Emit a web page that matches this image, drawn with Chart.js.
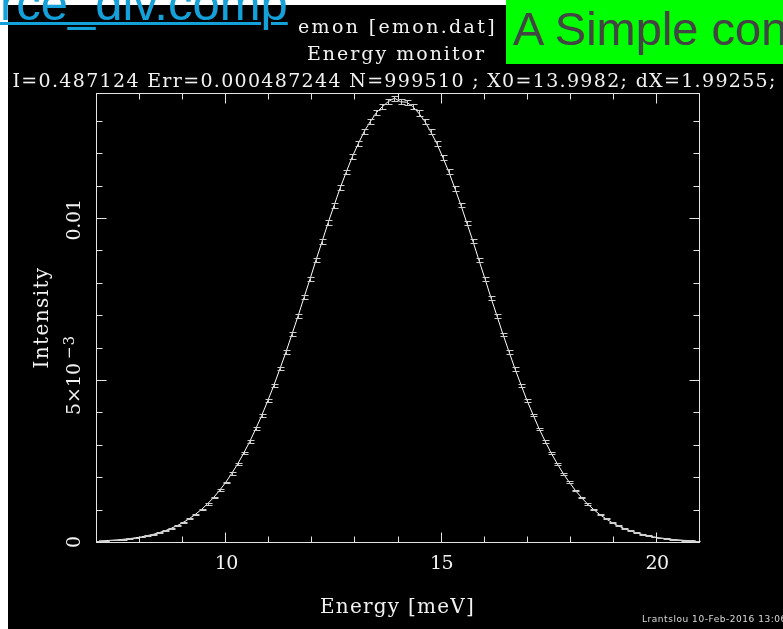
<!DOCTYPE html>
<html>
<head>
<meta charset="utf-8">
<script src="https://cdn.jsdelivr.net/npm/chart.js@4.4.1/dist/chart.umd.min.js"></script>
<style>
html, body { margin: 0; padding: 0; background: #fff; width: 783px; height: 629px; overflow: hidden; }
#plot { position: absolute; left: 8px; top: 5px; width: 775px; height: 624px; background: #000; overflow: hidden; }
#plot canvas { position: absolute; left: 0; top: 0; }
#link { position: absolute; left: 0px; top: -21px; font: 49px/49px "Liberation Sans", Arial, sans-serif; color: #14a0d9; text-decoration: underline; text-decoration-thickness: 3px; white-space: nowrap; }
#banner { position: absolute; left: 506px; top: 0; width: 277px; height: 64px; background: #00ff00; overflow: hidden; }
#banner span { position: absolute; left: 7px; top: 5px; font: 47px/47px "Liberation Sans", Arial, sans-serif; color: #444; white-space: nowrap; }
</style>
</head>
<body>
<div id="plot"><canvas id="stockChart" width="775" height="624"></canvas></div>
<a id="link" href="#">rce_div.comp</a>
<div id="banner"><span>A Simple con</span></div>
<script>
// Bin centres [meV]
const energy = [
  7.07, 7.21, 7.35, 7.49, 7.63, 7.77, 7.91, 8.05, 8.19, 8.33,
  8.47, 8.61, 8.75, 8.89, 9.03, 9.17, 9.31, 9.45, 9.59, 9.73,
  9.87, 10.01, 10.15, 10.29, 10.43, 10.57, 10.71, 10.85, 10.99, 11.13,
  11.27, 11.41, 11.55, 11.69, 11.83, 11.97, 12.11, 12.25, 12.39, 12.53,
  12.67, 12.81, 12.95, 13.09, 13.23, 13.37, 13.51, 13.65, 13.79, 13.93,
  14.07, 14.21, 14.35, 14.49, 14.63, 14.77, 14.91, 15.05, 15.19, 15.33,
  15.47, 15.61, 15.75, 15.89, 16.03, 16.17, 16.31, 16.45, 16.59, 16.73,
  16.87, 17.01, 17.15, 17.29, 17.43, 17.57, 17.71, 17.85, 17.99, 18.13,
  18.27, 18.41, 18.55, 18.69, 18.83, 18.97, 19.11, 19.25, 19.39, 19.53,
  19.67, 19.81, 19.95, 20.09, 20.23, 20.37, 20.51, 20.65, 20.79, 20.93
];

// Intensity per bin
const intensity = [
  0.000033, 0.000040, 0.000053, 0.000065, 0.000083, 0.000102, 0.000129, 0.000157, 0.000196, 0.000237,
  0.000291, 0.000351, 0.000425, 0.000508, 0.000610, 0.000722, 0.000857, 0.001005, 0.001181, 0.001372,
  0.001596, 0.001837, 0.002115, 0.002410, 0.002746, 0.003100, 0.003497, 0.003910, 0.004366, 0.004835,
  0.005345, 0.005862, 0.006415, 0.006969, 0.007551, 0.008121, 0.008712, 0.009280, 0.009856, 0.010396,
  0.010932, 0.011419, 0.011889, 0.012297, 0.012678, 0.012982, 0.013253, 0.013440, 0.013600, 0.013700,
  0.013590, 0.013575, 0.013449, 0.013242, 0.012993, 0.012667, 0.012307, 0.011879, 0.011429, 0.010922,
  0.010406, 0.009846, 0.009290, 0.008702, 0.008131, 0.007541, 0.006978, 0.006406, 0.005870, 0.005337,
  0.004843, 0.004358, 0.003918, 0.003489, 0.003106, 0.002740, 0.002416, 0.002109, 0.001842, 0.001591,
  0.001376, 0.001177, 0.001009, 0.000854, 0.000725, 0.000607, 0.000511, 0.000422, 0.000353, 0.000289,
  0.000239, 0.000194, 0.000159, 0.000127, 0.000104, 0.000081, 0.000067, 0.000051, 0.000042, 0.000031
];

// Error per bin
const intensityErr = [
  0.40e-5, 0.45e-5, 0.50e-5, 0.57e-5, 0.63e-5, 0.71e-5, 0.79e-5, 0.88e-5, 0.97e-5, 1.08e-5,
  1.19e-5, 1.31e-5, 1.44e-5, 1.58e-5, 1.72e-5, 1.88e-5, 2.04e-5, 2.22e-5, 2.40e-5, 2.59e-5,
  2.79e-5, 2.99e-5, 3.21e-5, 3.43e-5, 3.66e-5, 3.89e-5, 4.13e-5, 4.37e-5, 4.61e-5, 4.86e-5,
  5.10e-5, 5.35e-5, 5.59e-5, 5.83e-5, 6.06e-5, 6.29e-5, 6.51e-5, 6.73e-5, 6.93e-5, 7.12e-5,
  7.30e-5, 7.46e-5, 7.61e-5, 7.74e-5, 7.86e-5, 7.96e-5, 8.04e-5, 8.10e-5, 8.14e-5, 8.15e-5,
  8.15e-5, 8.14e-5, 8.10e-5, 8.04e-5, 7.96e-5, 7.86e-5, 7.74e-5, 7.61e-5, 7.46e-5, 7.30e-5,
  7.12e-5, 6.93e-5, 6.73e-5, 6.51e-5, 6.29e-5, 6.06e-5, 5.83e-5, 5.59e-5, 5.35e-5, 5.10e-5,
  4.86e-5, 4.61e-5, 4.37e-5, 4.13e-5, 3.89e-5, 3.66e-5, 3.43e-5, 3.21e-5, 2.99e-5, 2.79e-5,
  2.59e-5, 2.40e-5, 2.22e-5, 2.04e-5, 1.88e-5, 1.72e-5, 1.58e-5, 1.44e-5, 1.31e-5, 1.19e-5,
  1.08e-5, 0.97e-5, 0.88e-5, 0.79e-5, 0.71e-5, 0.63e-5, 0.57e-5, 0.50e-5, 0.45e-5, 0.40e-5
];

// Axis ticks
const xMajorTicks = [10, 15, 20];
const xTickLabels = ['10', '15', '20'];
const xMinorTicks = [8, 9, 11, 12, 13, 14, 16, 17, 18, 19];
const yMajorTicks = [0, 0.005, 0.01];
const yMinorTicks = [0.001, 0.002, 0.003, 0.004, 0.006, 0.007, 0.008, 0.009, 0.011, 0.012, 0.013];

// Texts
const plotTitle = 'emon [emon.dat]';
const plotSubtitle = 'Energy monitor';
const statsLine = 'I=0.487124 Err=0.000487244 N=999510 ; X0=13.9982; dX=1.99255;';
const xTitle = 'Energy [meV]';
const yTitle = 'Intensity';
const footer = 'Lrantslou 10-Feb-2016 13:06';

const SERIF = '"DejaVu Serif", serif';
const FG = '#f2f2f2';

// Draw text stretched to a given width with letter spacing
function fitText(ctx, str, x, y, width, align) {
    ctx.letterSpacing = '0px';
    const natural = ctx.measureText(str).width;
    const sp = (width - natural) / str.length;
    ctx.letterSpacing = sp.toFixed(2) + 'px';
    let x0 = x;
    if (align === 'center') x0 = x - width / 2;
    if (align === 'right') x0 = x - width;
    ctx.textAlign = 'left';
    ctx.fillText(str, x0, y);
    ctx.letterSpacing = '0px';
}

// Error bars drawn through the chart scales
const errorBars = {
    id: 'errorBars',
    afterDatasetsDraw(chart) {
        const { ctx, scales: { x, y } } = chart;
        ctx.save();
        ctx.strokeStyle = '#d0d0d0';
        ctx.lineWidth = 1;
        ctx.beginPath();
        energy.forEach((e, i) => {
            const px = Math.round(x.getPixelForValue(e)) + 0.5;
            const y1 = Math.round(y.getPixelForValue(intensity[i] - intensityErr[i])) + 0.5;
            const y2 = Math.round(y.getPixelForValue(intensity[i] + intensityErr[i])) + 0.5;
            ctx.moveTo(px, y1); ctx.lineTo(px, y2);
            ctx.moveTo(px - 3, y1); ctx.lineTo(px + 4, y1);
            ctx.moveTo(px - 3, y2); ctx.lineTo(px + 4, y2);
        });
        ctx.stroke();
        ctx.restore();
    }
};

// Frame, inward ticks, labels and titles
const frameAxes = {
    id: 'frameAxes',
    afterDraw(chart) {
        const { ctx, chartArea: a, scales: { x, y } } = chart;
        ctx.save();
        ctx.strokeStyle = '#e4e4e4';
        ctx.lineWidth = 1;
        const L = a.left + 0.5, R = a.right + 0.5, T = a.top + 0.5, B = a.bottom + 0.5;
        ctx.strokeRect(L, T, R - L, B - T);

        ctx.beginPath();
        const xTick = (v, len) => {
            const px = Math.round(x.getPixelForValue(v)) + 0.5;
            ctx.moveTo(px, B); ctx.lineTo(px, B - len);
            ctx.moveTo(px, T); ctx.lineTo(px, T + len);
        };
        const yTick = (v, len) => {
            const py = Math.round(y.getPixelForValue(v)) + 0.5;
            ctx.moveTo(L, py); ctx.lineTo(L + len, py);
            ctx.moveTo(R, py); ctx.lineTo(R - len, py);
        };
        xMajorTicks.forEach(v => xTick(v, 10));
        xMinorTicks.forEach(v => xTick(v, 6));
        yMajorTicks.forEach(v => yTick(v, 10));
        yMinorTicks.forEach(v => yTick(v, 6));
        ctx.stroke();

        ctx.fillStyle = FG;
        ctx.textBaseline = 'alphabetic';

        // x tick labels
        ctx.font = '19px ' + SERIF;
        xMajorTicks.forEach((v, i) => {
            fitText(ctx, xTickLabels[i], x.getPixelForValue(v) + 1, 564, 23, 'center');
        });

        // y tick labels (rotated)
        const yLab = (v, draw) => {
            ctx.save();
            ctx.translate(72, y.getPixelForValue(v));
            ctx.rotate(-Math.PI / 2);
            draw();
            ctx.restore();
        };
        yLab(0, () => { ctx.font = '19px ' + SERIF; fitText(ctx, '0', 0, 0, 12, 'center'); });
        yLab(0.01, () => { ctx.font = '19px ' + SERIF; fitText(ctx, '0.01', -2, 0, 41, 'center'); });
        yLab(0.005, () => {
            ctx.font = '19px ' + SERIF;
            fitText(ctx, '5\u00d710', -35, 0, 52, 'left');
            ctx.font = '15px ' + SERIF;
            fitText(ctx, '\u22123', 21, -6, 24, 'left');
        });

        // axis titles
        ctx.font = '20px ' + SERIF;
        fitText(ctx, xTitle, (a.left + a.right) / 2, 608, 155, 'center');
        ctx.save();
        ctx.translate(40, (a.top + a.bottom) / 2);
        ctx.rotate(-Math.PI / 2);
        fitText(ctx, yTitle, 0, 0, 102, 'center');
        ctx.restore();

        // header texts
        ctx.font = '19px ' + SERIF;
        fitText(ctx, plotTitle, 389.5, 28, 199, 'center');
        fitText(ctx, plotSubtitle, 388.5, 54.5, 179, 'center');
        fitText(ctx, statsLine, 4.5, 82, 764, 'left');

        // footer
        ctx.font = '9px "DejaVu Sans", sans-serif';
        ctx.fillStyle = '#dcdcdc';
        fitText(ctx, footer, 634, 617, 145, 'left');
        ctx.restore();
    }
};

const ctx = document.getElementById('stockChart').getContext('2d');
new Chart(ctx, {
    type: 'line',
    data: {
        datasets: [{
            label: 'emon',
            data: energy.map((e, i) => ({ x: e, y: intensity[i] })),
            borderColor: '#ffffff',
            borderWidth: 1,
            pointRadius: 0,
            tension: 0,
            fill: false
        }]
    },
    options: {
        responsive: false,
        animation: false,
        events: [],
        layout: { padding: { left: 88, top: 88, right: 84, bottom: 87 } },
        plugins: { legend: { display: false }, tooltip: { enabled: false } },
        scales: {
            x: { type: 'linear', display: false, min: 7, max: 21 },
            y: { type: 'linear', display: false, min: 0, max: 0.01386 }
        }
    },
    plugins: [errorBars, frameAxes]
});
</script>
</body>
</html>
